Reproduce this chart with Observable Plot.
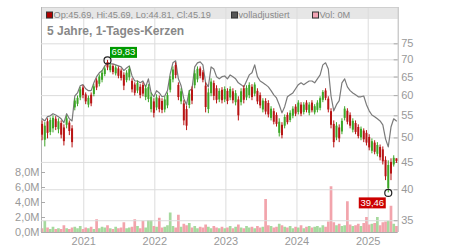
<!DOCTYPE html>
<html><head><meta charset="utf-8">
<script src="https://cdn.jsdelivr.net/npm/d3@7"></script>
<script src="https://cdn.jsdelivr.net/npm/@observablehq/plot@0.6"></script>
<style>
html,body{margin:0;padding:0;background:#fff;}
#chart{position:relative;width:450px;height:250px;font-family:"Liberation Sans",Arial,sans-serif;}
#chart svg{position:absolute;left:0;top:0;}
</style></head><body><div id="chart"></div>
<script>
const op=[53.0,49.5,53.6,51.2,52.0,54.2,51.8,53.2,52.2,52.8,
53.3,52.0,56.9,57.8,59.4,62.0,60.2,57.6,60.1,60.3,
63.9,63.0,64.1,65.7,69.2,66.8,68.0,65.9,67.3,66.7,
65.5,64.0,64.8,63.8,62.8,61.2,62.2,62.7,59.5,59.0,
56.5,58.4,56.9,59.2,58.5,56.4,57.4,61.4,64.2,68.3,
62.7,58.4,57.9,56.5,57.5,61.5,62.6,64.2,67.3,66.2,
62.5,56.5,60.5,63.2,61.8,58.9,61.4,58.9,61.1,59.4,
61.0,58.2,58.9,58.2,61.8,59.4,60.0,62.2,60.4,61.1,
60.0,56.4,58.5,58.0,54.4,56.0,55.1,51.0,52.8,52.6,
55.1,53.9,54.9,57.1,55.8,57.6,55.8,58.1,55.6,58.1,
55.7,56.3,56.8,58.8,61.2,59.1,56.0,53.0,50.0,52.2,
51.3,54.4,56.1,55.1,51.7,53.2,52.3,50.0,51.5,51.0,
50.1,47.2,48.9,46.6,48.0,47.5,45.4,40.2,45.0,44.5,
45.69];
const cl=[50.6,52.6,51.0,53.9,54.4,52.3,53.6,50.6,49.2,54.3,
51.4,49.0,58.6,59.3,61.5,60.0,58.4,59.3,57.9,62.3,
62.0,65.0,66.1,67.3,67.6,68.2,66.3,67.6,65.2,64.6,
62.5,66.1,67.2,61.5,60.6,63.2,60.0,60.4,61.8,62.1,
59.6,55.6,59.4,56.5,56.3,58.9,60.0,64.3,67.0,65.4,
59.5,61.0,53.8,52.6,60.4,58.6,65.9,67.2,65.2,64.1,
57.0,60.7,63.6,59.8,58.8,61.1,58.7,61.6,58.5,61.6,
58.7,60.5,55.0,61.0,58.8,61.9,62.7,59.5,62.8,58.4,
57.4,58.6,55.9,55.2,56.6,53.5,53.0,53.5,50.5,54.6,
53.4,55.6,56.6,55.4,58.1,55.4,57.6,56.3,57.6,56.2,
57.2,58.1,59.2,60.8,59.3,56.4,52.8,49.0,52.6,49.8,
53.7,56.6,53.5,52.6,53.7,51.2,50.3,51.9,49.6,48.9,
47.9,49.2,47.0,48.4,45.9,45.1,42.3,44.4,42.8,45.8,
45.19];
const hi=[53.8,53.4,54.3,54.5,55.0,54.8,54.3,53.8,52.9,55.0,
53.8,52.7,59.2,59.9,62.1,62.6,60.7,59.9,60.7,62.9,
64.5,65.6,66.8,67.9,69.83,68.8,68.5,68.2,67.9,67.3,
66.2,66.8,67.9,64.5,63.4,63.9,62.9,63.4,62.6,62.9,
60.7,59.2,60.2,59.9,59.2,59.7,60.7,65.1,67.9,69.1,
63.4,61.8,58.7,57.4,61.3,62.3,66.8,67.9,67.9,66.8,
63.4,61.8,64.5,63.9,62.6,61.8,62.1,62.3,61.8,62.3,
61.8,61.3,59.7,61.8,62.6,62.6,63.4,62.9,63.4,61.8,
60.7,59.2,59.2,58.7,57.2,56.7,55.7,54.3,53.4,55.2,
55.7,56.2,57.2,57.7,58.7,58.2,58.2,58.7,58.2,58.7,
57.7,58.7,59.7,61.3,61.8,59.7,56.7,53.8,53.4,52.9,
54.3,57.2,56.7,55.7,54.3,53.8,52.9,52.4,52.0,51.6,
50.7,49.8,49.4,49.0,48.5,48.1,46.1,45.3,45.7,46.3,
45.69];
const lo=[49.4,48.1,49.8,50.5,51.1,51.6,50.9,49.8,48.3,52.0,
50.5,47.9,56.2,57.2,58.7,59.2,57.7,56.9,57.2,59.7,
61.3,62.3,63.4,65.1,66.8,66.2,65.6,65.3,64.5,63.9,
61.3,63.4,63.9,60.7,59.9,60.5,59.2,59.7,58.7,58.2,
55.7,54.5,56.2,55.7,55.5,55.7,56.7,60.7,63.4,64.5,
58.7,57.7,52.7,51.6,56.7,57.7,61.8,63.4,64.5,63.4,
55.7,55.5,59.7,58.7,57.9,58.2,57.9,58.2,57.7,58.7,
57.9,57.4,53.8,57.4,57.9,58.7,59.2,58.7,59.7,57.7,
56.7,55.7,55.2,54.5,53.8,52.9,52.4,50.2,49.8,52.0,
52.9,53.4,54.3,54.8,55.2,54.8,55.2,55.7,55.0,55.7,
55.2,55.7,56.2,58.2,58.7,55.7,52.0,47.9,49.4,49.0,
50.7,53.8,52.9,52.0,51.1,50.7,49.8,49.4,49.0,48.3,
47.3,46.7,46.5,46.1,45.3,44.5,41.6,39.46,41.6,44.1,
44.81];
// "volladjustiert" line
const adj=[54.3,53.8,54.8,55.0,55.5,55.2,54.8,54.3,53.4,55.5,
54.3,53.8,59.9,60.7,62.6,62.9,61.8,61.3,61.3,63.4,
65.1,66.2,66.8,68.2,69.1,68.8,68.8,68.5,68.2,67.9,
66.8,67.6,68.2,65.3,63.9,63.9,63.4,63.9,62.3,64.5,
60.7,59.7,61.3,60.7,59.7,59.9,61.3,65.9,69.1,69.7,
64.5,62.6,59.2,57.7,61.3,61.8,67.9,69.1,69.4,68.5,
63.4,62.3,67.9,67.3,65.1,64.5,65.1,65.3,64.5,65.6,
65.1,64.5,63.4,62.9,62.3,63.9,65.6,66.2,68.5,65.1,
63.9,63.4,62.9,62.3,61.3,60.2,59.4,57.7,55.7,57.2,
59.7,60.2,60.7,61.8,62.9,63.4,62.9,63.4,63.9,63.9,
63.4,64.5,65.6,68.5,69.1,67.3,59.9,56.2,57.7,58.7,
63.4,64.5,62.3,61.3,60.7,60.2,59.7,59.7,59.9,57.7,
56.2,55.2,54.8,54.3,53.8,52.9,49.8,48.1,52.4,54.3,
53.8];
// volume in millions
const vol=[0.5,1.5,0.6,0.4,0.7,0.4,0.5,0.4,0.9,0.5,
0.4,0.6,0.7,0.5,0.8,0.4,0.6,0.5,0.7,0.4,
1.7,0.5,0.7,0.6,0.9,0.5,0.4,0.7,0.5,0.6,
1.3,0.5,0.6,0.7,1.7,0.8,0.5,1.5,0.6,1.6,
1.6,0.8,0.7,1.9,0.6,0.7,0.9,2.6,0.8,0.6,
2.3,0.7,1.1,0.9,1.2,0.6,0.8,0.5,0.7,0.6,
1.0,0.7,0.5,0.8,0.6,0.5,0.7,0.5,0.6,0.8,
0.5,0.7,1.0,0.6,0.5,0.8,0.6,0.7,0.5,0.8,
0.6,0.7,4.4,0.9,0.8,0.6,0.7,1.1,0.9,0.7,
0.6,0.8,0.5,0.7,0.6,0.9,0.5,0.7,0.8,0.6,
0.7,0.8,0.6,0.9,0.7,1.4,6.1,1.3,0.9,1.1,
0.8,0.9,4.1,1.0,0.8,0.9,1.1,0.8,1.2,2.0,
1.0,1.1,1.2,2.0,0.9,1.3,1.4,1.5,3.5,1.1,
0.8];
const priceTicks=[35,40,45,50,55,60,65,70,75];
const volTicks=[0,2,4,6,8];
const yearLabels=["2021","2022","2023","2024","2025"];

const W=450,H=250,ML=41,MR=52.3,MT=7,MB=18;
const IW=W-ML-MR;
const xDomain=[new Date(Date.UTC(2020,4,29)),new Date(Date.UTC(2025,5,4))];
const dates=op.map((_,i)=>new Date(Date.UTC(2020,5,1+14*i)));
const yearTicks=yearLabels.map(y=>new Date(Date.UTC(+y,0,1)));
const GREEN="#3ca626",RED="#b81414";
const candles=dates.map((d,i)=>({date:d,op:op[i],cl:cl[i],hi:hi[i],lo:lo[i],adj:adj[i],vol:vol[i],up:cl[i]>=op[i]}));
const iMax=d3.maxIndex(hi), iMin=d3.minIndex(lo);
const hiPt=[{date:dates[iMax],v:hi[iMax],t:hi[iMax].toFixed(2).replace(".",",")}];
const loPt=[{date:dates[iMin],v:lo[iMin],t:lo[iMin].toFixed(2).replace(".",",")}];
const boxSym={draw(ctx){ctx.rect(-13.5,-5.5,27,11);}};
const font='"Liberation Sans",Arial,sans-serif';
const chart=document.getElementById("chart");

// header band (bottom layer)
const band=d3.create("svg").attr("width",W).attr("height",H);
band.append("rect").attr("x",ML).attr("y",MT).attr("width",IW).attr("height",12).attr("fill","#e6e6e6");
chart.appendChild(band.node());

const common={width:W,height:H,marginLeft:ML,marginRight:MR,marginTop:MT,marginBottom:MB,
  style:{background:"transparent",fontFamily:font,fontSize:"11px",overflow:"visible"}};

const volPlot=Plot.plot({...common,
  x:{type:"utc",domain:xDomain},
  y:{domain:[0,30]},
  color:{type:"identity"},
  marks:[
    Plot.ruleX(yearTicks,{stroke:"#dcdcdc"}),
    Plot.ruleX(candles,{x:"date",y1:0,y2:"vol",stroke:d=>d.up?"#a6d99e":"#f2a4ac",strokeWidth:2.7}),
    Plot.ruleY([30],{stroke:"#cfcfcf"}),
    Plot.ruleY([0],{stroke:"#aaa"}),
    Plot.ruleX([xDomain[0]],{stroke:"#b5b5b5"}),
    Plot.tickY(volTicks,{y:d=>d,stroke:"#aaa",insetRight:IW-4}),
    Plot.axisY(volTicks,{anchor:"left",label:null,tickSize:0,tickPadding:2,fill:"#999",fontSize:11,
      tickFormat:d=>d.toFixed(1).replace(".",",")+"M"}),
    Plot.axisX(yearTicks,{anchor:"bottom",label:null,tickSize:0,tickPadding:5,fill:"#999",fontSize:11,
      tickFormat:d=>String(d.getUTCFullYear())})
  ]});
chart.appendChild(volPlot);

const pricePlot=Plot.plot({...common,
  x:{type:"utc",domain:xDomain,axis:null},
  y:{type:"log",domain:[33.27,87.7]},
  color:{type:"identity"},
  marks:[
    Plot.gridY(priceTicks,{stroke:"#dcdcdc",strokeOpacity:1}),
    Plot.ruleX([xDomain[1]],{stroke:"#b5b5b5"}),
    Plot.tickY(priceTicks,{y:d=>d,stroke:"#aaa",insetLeft:IW-4}),
    Plot.axisY(priceTicks,{anchor:"right",label:null,tickSize:0,tickPadding:3,fill:"#999",fontSize:11,tickFormat:d=>String(d)}),
    Plot.line(candles,{x:"date",y:"adj",stroke:"#7a7a7a",strokeWidth:1.2}),
    Plot.ruleX(candles,{x:"date",y1:"lo",y2:"hi",stroke:d=>d.up?GREEN:RED,strokeWidth:1}),
    Plot.ruleX(candles,{x:"date",y1:"op",y2:"cl",stroke:d=>d.up?GREEN:RED,strokeWidth:2}),
    Plot.dot(hiPt,{x:"date",y:"v",r:3.5,stroke:"#222",fill:"none",strokeWidth:1.2}),
    Plot.dot(loPt,{x:"date",y:"v",r:3.5,stroke:"#222",fill:"none",strokeWidth:1.2}),
    Plot.dot(hiPt,{x:"date",y:"v",symbol:boxSym,fill:"#009a00",stroke:"none",dx:16,dy:-8}),
    Plot.text(hiPt,{x:"date",y:"v",text:"t",fill:"white",fontSize:9.5,dx:16,dy:-8}),
    Plot.dot(loPt,{x:"date",y:"v",symbol:boxSym,fill:"#cc0000",stroke:"none",dx:-16,dy:10}),
    Plot.text(loPt,{x:"date",y:"v",text:"t",fill:"white",fontSize:9.5,dx:-16,dy:10})
  ]});
chart.appendChild(pricePlot);

// header texts (top layer)
const hdr=d3.create("svg").attr("width",W).attr("height",H).style("font-family",font);
const items=[
  {x:46.5,fill:"#b00000",label:"Op:45.69, Hi:45.69, Lo:44.81, Cl:45.19"},
  {x:231.5,fill:"#555555",label:"volladjustiert"},
  {x:312.5,fill:"#f2a4b4",label:"Vol: 0M"}];
for(const it of items){
  hdr.append("rect").attr("x",it.x).attr("y",12).attr("width",6).attr("height",6)
    .attr("fill",it.fill).attr("stroke","#333").attr("stroke-width",1);
  hdr.append("text").attr("x",it.x+7).attr("y",18.3).attr("font-size",9.2).attr("fill","#8a8a8a").text(it.label);
}
hdr.append("text").attr("x",47).attr("y",34.5).attr("font-size",12).attr("font-weight","bold")
  .attr("fill","#888").text("5 Jahre, 1-Tages-Kerzen");
chart.appendChild(hdr.node());
</script></body></html>
